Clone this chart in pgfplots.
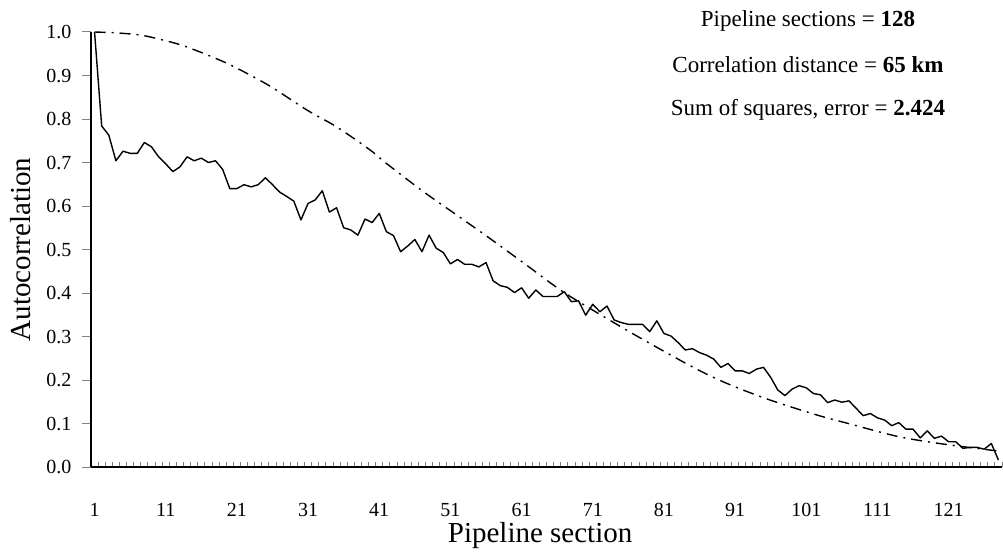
\documentclass[border=0pt]{standalone}
\usepackage{fontspec}
\setmainfont{Liberation Serif}
\usepackage{pgfplots}
\pgfplotsset{compat=1.18}

\begin{document}
\begin{tikzpicture}
\useasboundingbox (-91pt,-85pt) rectangle (912pt,467pt);
\begin{axis}[
    at={(0,0)}, anchor=south west,
    scale only axis,
    width=911pt, height=435pt,
    xmin=0.5, xmax=128.5,
    ymin=0, ymax=1,
    axis lines=left,
    axis line style={-, line width=1.6pt},
    clip=false,
    tick align=inside,
    xtick={1,11,...,121},
    major x tick style={draw=none},
    minor xtick={0.5,1.5,...,128.5},
    minor x tick style={line width=0.9pt},
    minor tick length=5pt,
    ytick={0,0.1,...,1.01},
    major y tick style={line width=1pt, xshift=-9pt},
    major tick length=9pt,
    /pgf/number format/assume math mode=true,
    yticklabel style={/pgf/number format/fixed, /pgf/number format/fixed zerofill, /pgf/number format/precision=1, xshift=-16pt},
    tick label style={font=\fontsize{20}{23}\selectfont},
    xticklabel style={yshift=-33pt, text depth=0pt, inner sep=0pt, yshift=-3pt},
    xlabel={Pipeline section},
    ylabel={Autocorrelation},
    label style={font=\fontsize{29}{33}\selectfont},
    xlabel style={at={(rel axis cs:0.493,0)}, anchor=base, yshift=-75pt, text height=19pt, inner sep=0pt},
    ylabel style={at={(rel axis cs:-0.0768,0.5)}, anchor=center},
]
% empirical autocorrelation
\addplot[black, line width=1.4pt, line join=round] table {
x y
1 1.000
2 0.784
3 0.763
4 0.704
5 0.726
6 0.721
7 0.721
8 0.746
9 0.736
10 0.713
11 0.697
12 0.679
13 0.690
14 0.713
15 0.704
16 0.710
17 0.700
18 0.704
19 0.684
20 0.640
21 0.640
22 0.649
23 0.644
24 0.649
25 0.665
26 0.649
27 0.632
28 0.622
29 0.611
30 0.568
31 0.606
32 0.614
33 0.635
34 0.586
35 0.596
36 0.550
37 0.545
38 0.533
39 0.570
40 0.562
41 0.583
42 0.541
43 0.532
44 0.495
45 0.508
46 0.523
47 0.495
48 0.533
49 0.503
50 0.493
51 0.467
52 0.477
53 0.466
54 0.466
55 0.460
56 0.470
57 0.428
58 0.417
59 0.413
60 0.401
61 0.412
62 0.388
63 0.407
64 0.392
65 0.392
66 0.392
67 0.403
68 0.380
69 0.382
70 0.349
71 0.374
72 0.357
73 0.370
74 0.338
75 0.332
76 0.328
77 0.328
78 0.328
79 0.311
80 0.336
81 0.307
82 0.301
83 0.286
84 0.269
85 0.272
86 0.263
87 0.257
88 0.248
89 0.229
90 0.238
91 0.221
92 0.221
93 0.215
94 0.225
95 0.229
96 0.206
97 0.177
98 0.164
99 0.179
100 0.187
101 0.182
102 0.169
103 0.166
104 0.148
105 0.154
106 0.149
107 0.152
108 0.135
109 0.118
110 0.123
111 0.113
112 0.108
113 0.095
114 0.102
115 0.087
116 0.087
117 0.067
118 0.083
119 0.066
120 0.071
121 0.058
122 0.058
123 0.043
124 0.045
125 0.045
126 0.041
127 0.054
128 0.016
};
% fitted model
\addplot[black, line width=1.4pt, smooth, dash pattern=on 11pt off 6pt on 2pt off 6pt] table {
x y
1 1.000
4 0.998
7.4 0.993
10.5 0.982
13.9 0.966
19.6 0.928
25.4 0.878
30.8 0.821
35 0.782
39.7 0.729
42 0.698
47.2 0.633
51.9 0.579
56.5 0.526
61.7 0.464
66.8 0.403
72.5 0.346
78.6 0.288
85.6 0.225
90.3 0.189
95.9 0.154
102.4 0.120
106.9 0.100
113.9 0.070
119.7 0.054
125.8 0.041
128 0.037
};
\node[anchor=base, font=\fontsize{23}{27}\selectfont] at (rel axis cs:0.787,1.0115) {Pipeline sections = \textbf{128}};
\node[anchor=base, font=\fontsize{23}{27}\selectfont] at (rel axis cs:0.787,0.908) {Correlation distance = \textbf{65 km}};
\node[anchor=base, font=\fontsize{23}{27}\selectfont] at (rel axis cs:0.787,0.807) {Sum of squares, error = \textbf{2.424}};
\end{axis}
\end{tikzpicture}
\end{document}
